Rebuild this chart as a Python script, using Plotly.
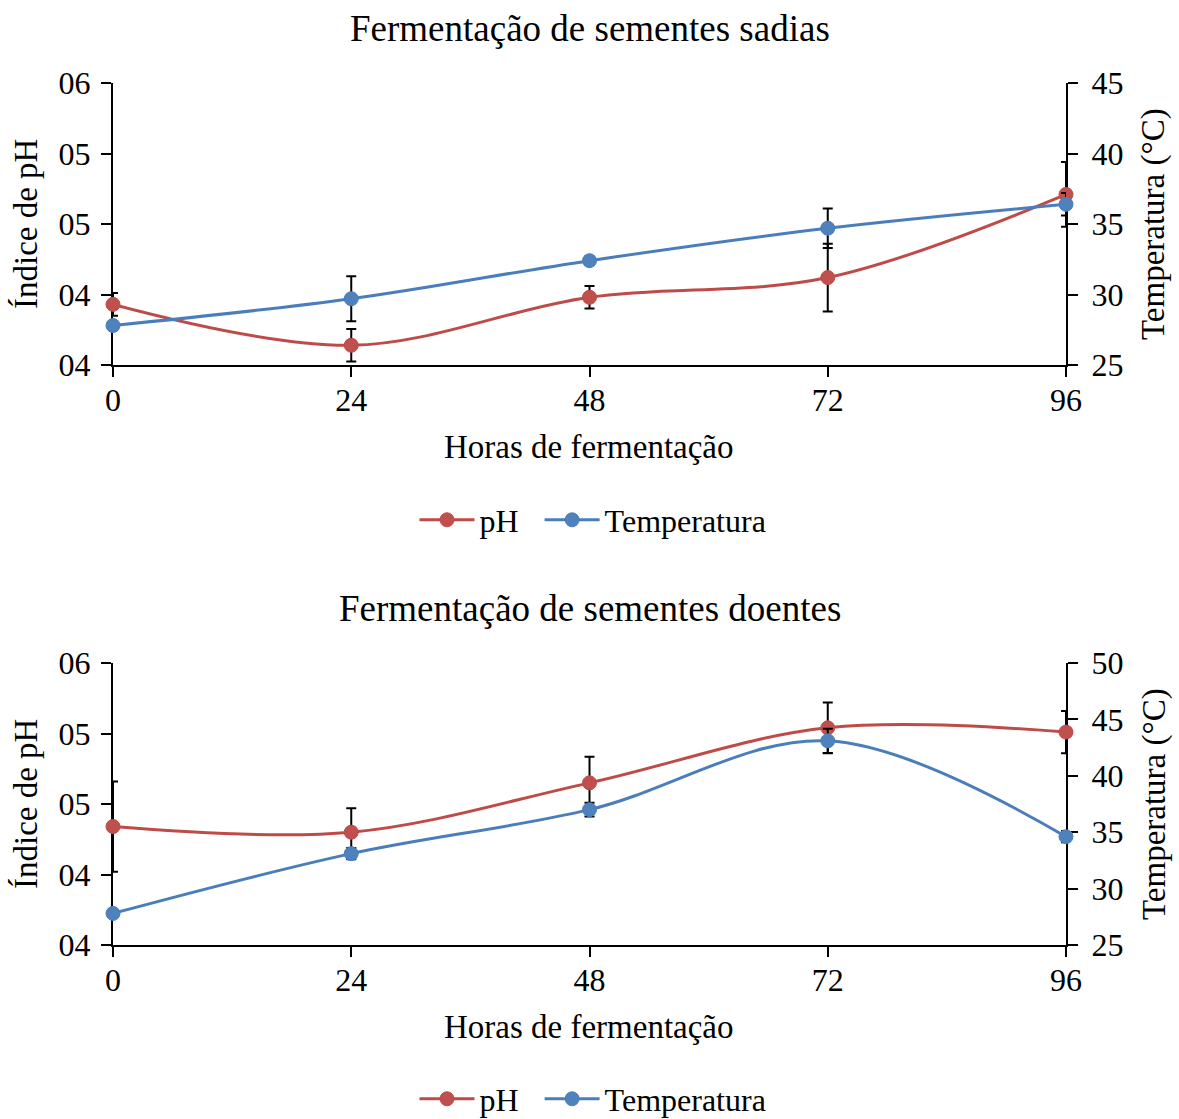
import plotly.graph_objects as go

# ---- data ----
hours = [0, 24, 48, 72, 96]

ph_ticks = [4.0, 4.5, 5.0, 5.5, 6.0]
ph_tick_labels = ["04", "04", "05", "05", "06"]
temp_ticks_sadias = [25, 30, 35, 40, 45]
temp_ticks_doentes = [25, 30, 35, 40, 45, 50]

ph_sadias = [4.43, 4.14, 4.48, 4.62, 5.21]
ph_sadias_err = [0.08, 0.115, 0.08, 0.24, 0.23]
temp_sadias = [27.8, 29.7, 32.4, 34.7, 36.4]
temp_sadias_err = [0.3, 1.6, 0.3, 1.4, 0.8]

ph_doentes = [4.84, 4.80, 5.15, 5.54, 5.51]
ph_doentes_err = [0.32, 0.17, 0.185, 0.18, 0.15]
temp_doentes = [27.8, 33.1, 37.0, 43.1, 34.6]
temp_doentes_err = [0.3, 0.5, 0.6, 1.07, 0.5]

titles = ["Fermentação de sementes sadias", "Fermentação de sementes doentes"]
x_title = "Horas de fermentação"
y_left_title = "Índice de pH"
y_right_title = "Temperatura (°C)"

# ---- style ----
W, H = 1179, 1119
FONT = "Liberation Serif, Times New Roman, serif"
RED_LINE, RED_MARK = "#BE4B48", "#C0504D"
BLUE_LINE, BLUE_MARK = "#4A7EBB", "#4F81BD"
GAP = "\u00a0\u00a0"  # extra room after the first legend entry


def px_x(x):
    return x / W


def px_y(y):
    return 1 - y / H


fig = go.Figure()


def add_series(x, y, err, name, line_c, mark_c, xa, ya, legend):
    fig.add_trace(go.Scatter(
        x=x, y=y, name=name, mode="lines+markers",
        line=dict(color=line_c, width=3, shape="spline", smoothing=1.0),
        marker=dict(size=14, color=mark_c, line=dict(color=line_c, width=1)),
        error_y=dict(type="data", array=err, visible=True,
                     color="black", thickness=2, width=5),
        xaxis=xa, yaxis=ya, legend=legend, cliponaxis=False,
    ))


add_series(hours, ph_sadias, ph_sadias_err, "pH" + GAP, RED_LINE, RED_MARK, "x", "y", "legend")
add_series(hours, temp_sadias, temp_sadias_err, "Temperatura", BLUE_LINE, BLUE_MARK, "x", "y2", "legend")
add_series(hours, ph_doentes, ph_doentes_err, "pH" + GAP, RED_LINE, RED_MARK, "x2", "y3", "legend2")
add_series(hours, temp_doentes, temp_doentes_err, "Temperatura", BLUE_LINE, BLUE_MARK, "x2", "y4", "legend2")

axis_common = dict(
    showline=True, linecolor="black", linewidth=2,
    ticks="outside", ticklen=10, tickwidth=2, tickcolor="black",
    showgrid=False, zeroline=False, layer="below traces",
    tickfont=dict(family=FONT, size=32, color="black"),
    automargin=False, fixedrange=True,
)

x_dom = [px_x(113), px_x(1066)]
top_dom = [px_y(365), px_y(83)]
bot_dom = [px_y(945), px_y(663)]

fig.update_layout(
    xaxis=dict(domain=x_dom, anchor="y", range=[0, 96], tickvals=hours,
               ticklabelstandoff=-4, **axis_common),
    yaxis=dict(domain=top_dom, anchor="x", range=[4, 6], tickvals=ph_ticks,
               ticktext=ph_tick_labels, ticklabelstandoff=4, **axis_common),
    yaxis2=dict(overlaying="y", anchor="x", side="right", range=[25, 45],
                tickvals=temp_ticks_sadias, ticklabelstandoff=7, **axis_common),
    xaxis2=dict(domain=x_dom, anchor="y3", range=[0, 96], tickvals=hours,
                ticklabelstandoff=-4, **axis_common),
    yaxis3=dict(domain=bot_dom, anchor="x2", range=[4, 6], tickvals=ph_ticks,
                ticktext=ph_tick_labels, ticklabelstandoff=4, **axis_common),
    yaxis4=dict(overlaying="y3", anchor="x2", side="right", range=[25, 50],
                tickvals=temp_ticks_doentes, ticklabelstandoff=7, **axis_common),
)

legend_common = dict(
    orientation="h", xanchor="center", yanchor="middle", x=px_x(593),
    font=dict(family=FONT, size=32, color="black"),
    bgcolor="rgba(0,0,0,0)", itemwidth=55,
)
fig.update_layout(
    legend=dict(y=px_y(520), **legend_common),
    legend2=dict(y=px_y(1099), **legend_common),
)

annotations = []
for title, ty in zip(titles, [28, 608]):
    annotations.append(dict(text=title, x=px_x(590), y=px_y(ty), xref="paper", yref="paper",
                            showarrow=False, xanchor="center", yanchor="middle",
                            font=dict(family=FONT, size=37, color="black")))
for xy, ly in [(447, 224), (1027, 804)]:
    annotations.append(dict(text=x_title, x=px_x(589), y=px_y(xy), xref="paper", yref="paper",
                            showarrow=False, xanchor="center", yanchor="middle",
                            font=dict(family=FONT, size=33, color="black")))
    annotations.append(dict(text=y_left_title, x=px_x(26), y=px_y(ly), xref="paper", yref="paper",
                            showarrow=False, xanchor="center", yanchor="middle", textangle=-90,
                            font=dict(family=FONT, size=33, color="black")))
    annotations.append(dict(text=y_right_title, x=px_x(1154), y=px_y(ly), xref="paper", yref="paper",
                            showarrow=False, xanchor="center", yanchor="middle", textangle=-90,
                            font=dict(family=FONT, size=33, color="black")))

fig.update_layout(
    annotations=annotations,
    width=W, height=H,
    margin=dict(l=0, r=0, t=0, b=0, autoexpand=False),
    paper_bgcolor="white", plot_bgcolor="white",
    showlegend=True,
)

fig.write_html("out.html", config={"displayModeBar": False})
